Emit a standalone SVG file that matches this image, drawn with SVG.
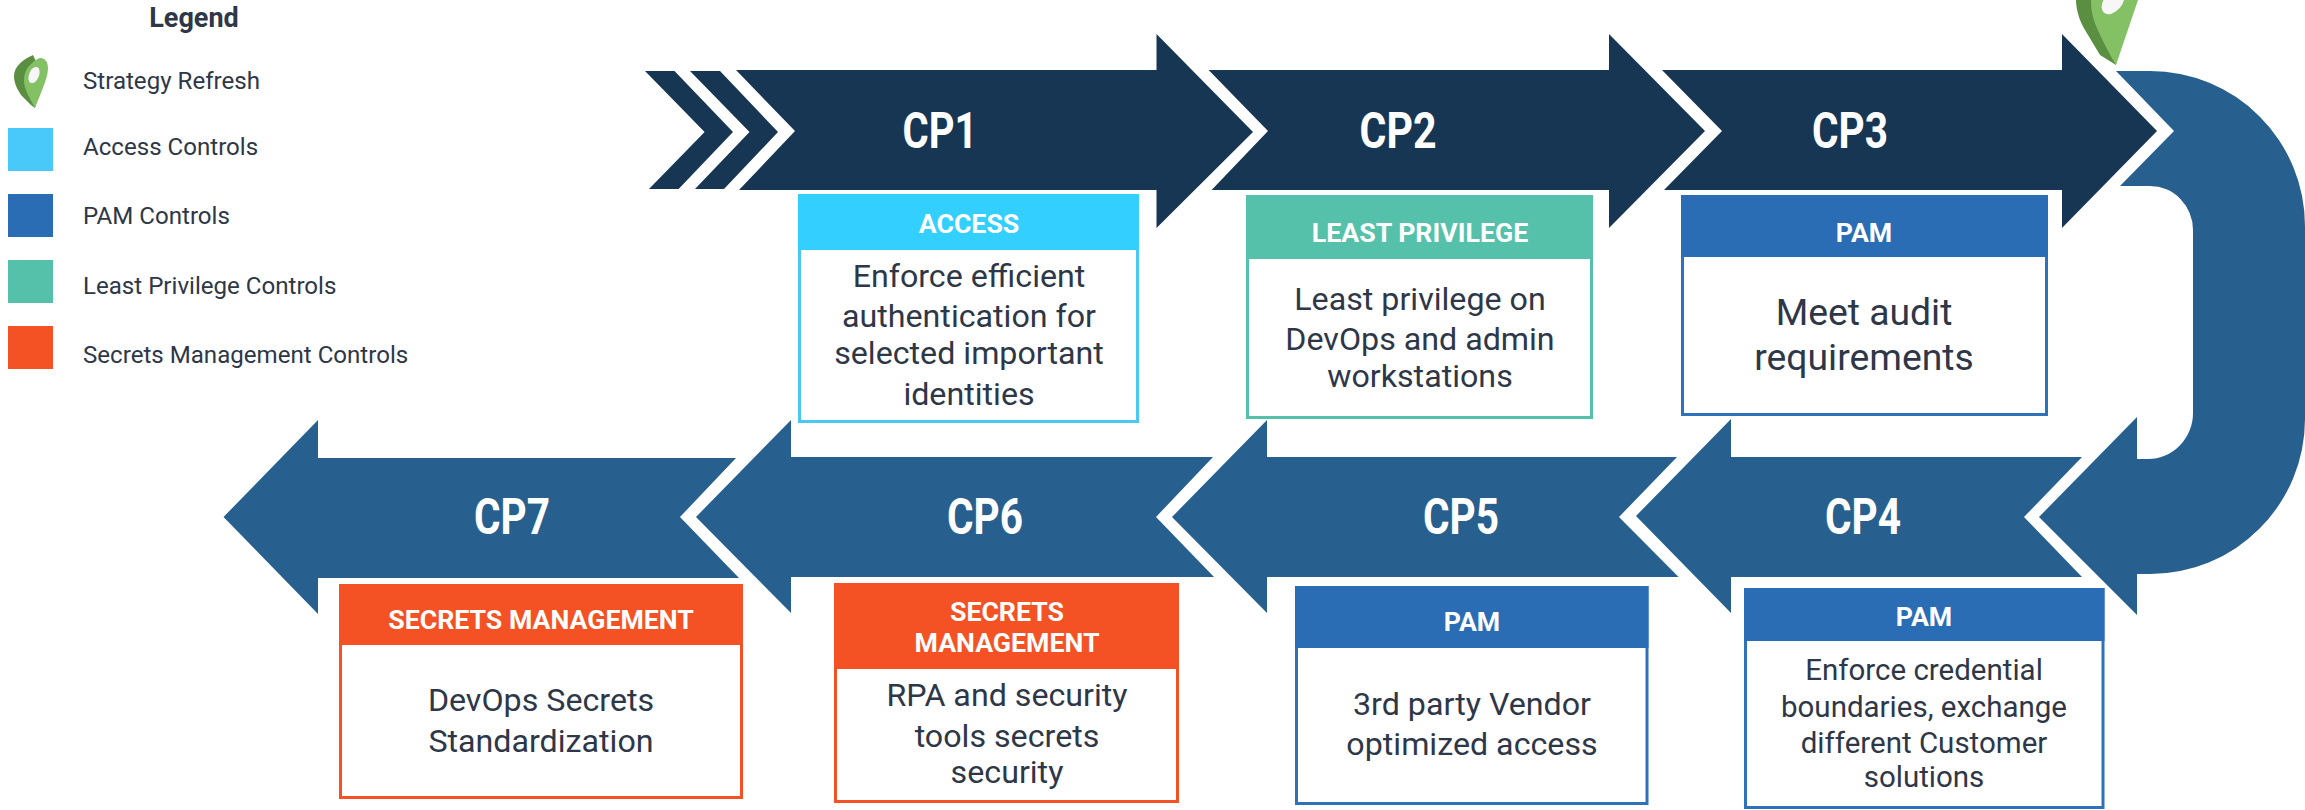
<svg xmlns="http://www.w3.org/2000/svg" width="2305" height="810" viewBox="0 0 2305 810">
<style>
text{font-family:Roboto,"Liberation Sans",sans-serif;text-anchor:middle}
.navy{fill:#163654}.mid{fill:#27608F}
.cp{font-size:50px;font-weight:700;fill:#fff}
.hd{font-size:26.7px;font-weight:700;fill:#fff}
.bd{fill:#2D3748;font-size:32.2px}
.bd3{font-size:37.3px}
.bd4{font-size:29.5px}
.lg{font-size:24.1px;fill:#2D3748;text-anchor:start}
.box{fill:#fff;stroke-width:3}
.ac{fill:#33CFFF}.pm{fill:#2B6DB5}.lp{fill:#55C1AB}.sm{fill:#F45224}
.dk{fill:#5A8F42}.lt{fill:#84C164}.hl{fill:#F7F7F7}
</style>
<g id="legend">
<text x="194" y="27" font-size="27" font-weight="700" fill="#2D3748">Legend</text>
<g id="legend-pin">
<path class="dk" d="M33,55C24,59 14,66 14,76C14,84 18,90 21,95L31,105L35,108L40,70Z"/>
<path class="lt" d="M36,60C42,55 48,60 48,68C48,78 41,92 35,108C30,98 24,90 24,80C24,70 30,64 36,60Z"/>
<ellipse class="hl" cx="34" cy="75" rx="5" ry="8.5" transform="rotate(22 34 75)"/>
</g>
<rect x="8" y="128" width="45" height="43" fill="#48C9F9"/>
<rect x="8" y="194" width="45" height="43" class="pm"/>
<rect x="8" y="260" width="45" height="43" class="lp"/>
<rect x="8" y="326" width="45" height="43" class="sm"/>
<text class="lg" x="83" y="89">Strategy Refresh</text>
<text class="lg" x="83" y="155">Access Controls</text>
<text class="lg" x="83" y="224">PAM Controls</text>
<text class="lg" x="83" y="294">Least Privilege Controls</text>
<text class="lg" x="83" y="363">Secrets Management Controls</text>
</g>
<g id="connectors">
<polygon class="navy" points="645,71 674.5,71 733,132 678.6,189 649,189 704.6,132"/>
<polygon class="navy" points="690,71 720,71 778,132 724,189 695,189 749.5,132"/>
<path class="mid" d="M2116,71H2150A155,155 0 0 1 2305,226V419A155,155 0 0 1 2150,574H2137V615L2039,517L2137,417V459H2148A45,46 0 0 0 2193,413V230A43,44 0 0 0 2150,186H2120L2174,131Z"/>
</g>
<g id="strategy-pin">
<path class="dk" d="M2076,0C2076,10 2080,22 2085,30L2100,55L2116,65L2120,0Z"/>
<path class="lt" d="M2091,0C2091,10 2093,20 2097,28C2103,42 2110,55 2116,65L2138,0Z"/>
<ellipse class="hl" cx="2113" cy="2" rx="9" ry="14" transform="rotate(40 2113 2)"/>
</g>
<g id="cp1">
<polygon class="navy" points="736,70 1156.5,70 1156.5,34 1253,132 1156.5,228 1156.5,190 739,190 795,131"/>
<text class="cp" x="940" y="148" textLength="75" lengthAdjust="spacingAndGlyphs">CP1</text>
<rect class="box" x="799.5" y="195.5" width="338" height="226" stroke="#4AC8F2"/>
<rect class="ac" x="798" y="194" width="341" height="56"/>
<text class="hd" x="969" y="233">ACCESS</text>
<text class="bd" x="969" y="287">Enforce efficient</text>
<text class="bd" x="969" y="327">authentication for</text>
<text class="bd" x="969" y="364">selected important</text>
<text class="bd" x="969" y="405">identities</text>
</g>
<g id="cp2">
<polygon class="navy" points="1208.6,70 1609,70 1609,34 1705,131 1609,228 1609,190 1211.6,190 1268,131"/>
<text class="cp" x="1398" y="148" textLength="77" lengthAdjust="spacingAndGlyphs">CP2</text>
<rect class="box" x="1247.5" y="196.5" width="344" height="221" stroke="#55C1AB"/>
<rect class="lp" x="1246" y="195" width="347" height="64"/>
<text class="hd" x="1420" y="242">LEAST PRIVILEGE</text>
<text class="bd" x="1420" y="310">Least privilege on</text>
<text class="bd" x="1420" y="350">DevOps and admin</text>
<text class="bd" x="1420" y="387">workstations</text>
</g>
<g id="cp3">
<polygon class="navy" points="1662,70 2062,70 2062,34 2157,131 2062,228 2062,190 1664,190 1722,131"/>
<text class="cp" x="1850" y="148" textLength="76" lengthAdjust="spacingAndGlyphs">CP3</text>
<rect class="box" x="1682.5" y="196.5" width="364" height="218" stroke="#2F72BC"/>
<rect class="pm" x="1681" y="195" width="367" height="62"/>
<text class="hd" x="1864" y="242">PAM</text>
<text class="bd bd3" x="1864" y="325">Meet audit</text>
<text class="bd bd3" x="1864" y="370">requirements</text>
</g>
<g id="cp4">
<polygon class="mid" points="2082,457 1731,457 1731,419 1636,516 1731,613 1731,577 2082,577 2024,517"/>
<text class="cp" x="1863" y="534" textLength="76" lengthAdjust="spacingAndGlyphs">CP4</text>
<rect class="box" x="1745.5" y="589.5" width="357.5" height="218" stroke="#2F72BC"/>
<rect class="pm" x="1744" y="588" width="360.5" height="53"/>
<text class="hd" x="1924" y="626">PAM</text>
<text class="bd bd4" x="1924" y="680">Enforce credential</text>
<text class="bd bd4" x="1924" y="717">boundaries, exchange</text>
<text class="bd bd4" x="1924" y="753">different Customer</text>
<text class="bd bd4" x="1924" y="787">solutions</text>
</g>
<g id="cp5">
<polygon class="mid" points="1677,457 1267,457 1267,420 1172,517 1267,613 1267,577 1678.6,577 1619,517"/>
<text class="cp" x="1461" y="534" textLength="76" lengthAdjust="spacingAndGlyphs">CP5</text>
<rect class="box" x="1296.5" y="587.5" width="350.5" height="216" stroke="#2F72BC"/>
<rect class="pm" x="1295" y="586" width="353.5" height="62"/>
<text class="hd" x="1472" y="631">PAM</text>
<text class="bd" x="1472" y="715">3rd party Vendor</text>
<text class="bd" x="1472" y="755">optimized access</text>
</g>
<g id="cp6">
<polygon class="mid" points="1213,457 791,457 791,420 696,517 791,613 791,577 1214,577 1156,517"/>
<text class="cp" x="985" y="534" textLength="76" lengthAdjust="spacingAndGlyphs">CP6</text>
<rect class="box" x="835.5" y="584.5" width="342" height="217" stroke="#F45224"/>
<rect class="sm" x="834" y="583" width="345" height="86"/>
<text class="hd" x="1007" y="621">SECRETS</text>
<text class="hd" x="1007" y="652">MANAGEMENT</text>
<text class="bd" x="1007" y="706">RPA and security</text>
<text class="bd" x="1007" y="747">tools secrets</text>
<text class="bd" x="1007" y="783">security</text>
</g>
<g id="cp7">
<polygon class="mid" points="736,458 318,458 318,420 223.5,517 318,614 318,578 739,578 680,517"/>
<text class="cp" x="512" y="534" textLength="76" lengthAdjust="spacingAndGlyphs">CP7</text>
<rect class="box" x="340.5" y="585.5" width="401" height="212" stroke="#F45224"/>
<rect class="sm" x="339" y="584" width="404" height="61"/>
<text class="hd" x="541" y="629">SECRETS MANAGEMENT</text>
<text class="bd" x="541" y="711">DevOps Secrets</text>
<text class="bd" x="541" y="752">Standardization</text>
</g>
</svg>
